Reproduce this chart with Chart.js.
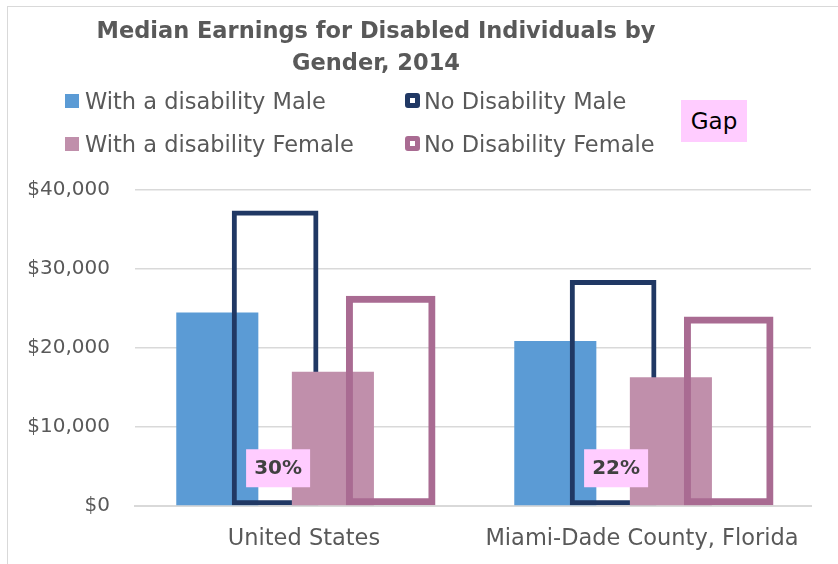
<!DOCTYPE html>
<html>
<head>
<meta charset="utf-8">
<script src="https://cdn.jsdelivr.net/npm/chart.js@4.4.1/dist/chart.umd.min.js"></script>
<style>
  body { margin: 0; background: #fff; font-family: "DejaVu Sans", sans-serif; }
  #wrap { position: relative; width: 838px; height: 564px; overflow: hidden; }
  #frame { position: absolute; left: 7px; top: 6px; width: 900px; height: 700px; border: 1.5px solid #d9d9d9; }
  #chart { position: absolute; left: 0; top: 0; }
  #title { position: absolute; left: 0; top: 14px; width: 752px; text-align: center;
           font-weight: bold; font-size: 22.5px; line-height: 32px; color: #595959; }
  .leg { position: absolute; font-size: 22.5px; color: #595959; white-space: nowrap; line-height: 26px; }
  .leg .box { position: absolute; box-sizing: border-box; }
  #gap { position: absolute; left: 681px; top: 100px; width: 66px; height: 42px; background: #ffccff;
         font-size: 23px; line-height: 42px; text-align: center; color: #000; }
</style>
</head>
<body>
<div id="wrap">
  <div id="frame"></div>
  <canvas id="chart" width="838" height="564"></canvas>
  <div id="title">Median Earnings for Disabled Individuals by<br>Gender, 2014</div>
  <div id="legend"></div>
  <div id="gap">Gap</div>
</div>
<script>
const categories = ['United States', 'Miami-Dade County, Florida'];
const withDisabilityMale = [24500, 20900];
const noDisabilityMale = [37400, 28600];
const withDisabilityFemale = [17000, 16300];
const noDisabilityFemale = [26600, 24000];
const gapLabels = ['30%', '22%'];
const yTicks = [0, 10000, 20000, 30000, 40000];

const FONT = '"DejaVu Sans", sans-serif';

// draw datasets first-to-last so the outlines sit on top of the filled bar to their left
const drawInOrder = {
  id: 'drawInOrder',
  beforeDatasetsDraw(chart) {
    for (let i = 0; i < chart.data.datasets.length; i++) {
      chart.getDatasetMeta(i).controller.draw();
    }
    return false;
  }
};

// pink "gap" boxes sitting on the No Disability Male bars
const gapBoxes = {
  id: 'gapBoxes',
  afterDraw(chart) {
    const ctx = chart.ctx;
    chart.getDatasetMeta(1).data.forEach((bar, i) => {
      const x = bar.x + 3, y = bar.base - 37;
      ctx.save();
      ctx.fillStyle = '#FFCCFF';
      ctx.fillRect(x - 32, y - 19, 64, 38);
      ctx.fillStyle = '#404040';
      ctx.font = 'bold 20px ' + FONT;
      ctx.textAlign = 'center';
      ctx.textBaseline = 'middle';
      ctx.fillText(gapLabels[i], x, y + 1);
      ctx.restore();
    });
  }
};

const datasets = [
  { label: 'With a disability Male', data: withDisabilityMale, backgroundColor: '#5B9BD5',
    barPercentage: 1.42 },
  { label: 'No Disability Male', data: noDisabilityMale, backgroundColor: 'rgba(0,0,0,0)',
    borderColor: '#203864', borderWidth: 5, borderSkipped: false, barPercentage: 1.5 },
  { label: 'With a disability Female', data: withDisabilityFemale, backgroundColor: '#C08FAB',
    barPercentage: 1.42 },
  { label: 'No Disability Female', data: noDisabilityFemale, backgroundColor: 'rgba(0,0,0,0)',
    borderColor: '#A96B92', borderWidth: 7, borderSkipped: false, barPercentage: 1.55 }
];

new Chart(document.getElementById('chart').getContext('2d'), {
  type: 'bar',
  data: { labels: categories, datasets: datasets },
  options: {
    responsive: false,
    animation: false,
    categoryPercentage: 0.684,
    layout: { padding: { top: 190, right: 27, left: 0, bottom: 0 } },
    plugins: {
      legend: { display: false },
      title: { display: false },
      tooltip: { enabled: false }
    },
    scales: {
      x: {
        grid: { display: false, drawTicks: false },
        border: { color: '#d9d9d9', width: 2 },
        ticks: { color: '#595959', font: { family: FONT, size: 22.5 }, padding: 20 },
        afterFit: (s) => { s.height = 58; }
      },
      y: {
        min: 0,
        max: 40000,
        afterBuildTicks: (s) => { s.ticks = yTicks.map(v => ({ value: v })); },
        ticks: {
          color: '#595959',
          font: { family: FONT, size: 20 },
          padding: 25,
          callback: (v) => '$' + v.toLocaleString('en-US')
        },
        grid: { color: '#d9d9d9', lineWidth: 1.5, drawTicks: false },
        border: { display: false },
        afterFit: (s) => { s.width = 135; }
      }
    }
  },
  plugins: [drawInOrder, gapBoxes]
});

// legend, 2 x 2 like the original
const legendPos = [[65, 88], [404, 88], [65, 131], [404, 131]];
const legend = document.getElementById('legend');
datasets.forEach((ds, i) => {
  const item = document.createElement('div');
  item.className = 'leg';
  item.style.left = legendPos[i][0] + 'px';
  item.style.top = legendPos[i][1] + 'px';
  const box = document.createElement('span');
  box.className = 'box';
  if (ds.borderWidth) {
    box.style.cssText = 'left:1px;top:5px;width:15px;height:15px;border:5px solid ' + ds.borderColor +
      ';border-radius:3px;background:#fff';
  } else {
    box.style.cssText = 'left:0;top:6px;width:14px;height:14px;background:' + ds.backgroundColor;
  }
  item.appendChild(box);
  const txt = document.createElement('span');
  txt.style.marginLeft = '20px';
  txt.textContent = ds.label;
  item.appendChild(txt);
  legend.appendChild(item);
});
</script>
</body>
</html>
